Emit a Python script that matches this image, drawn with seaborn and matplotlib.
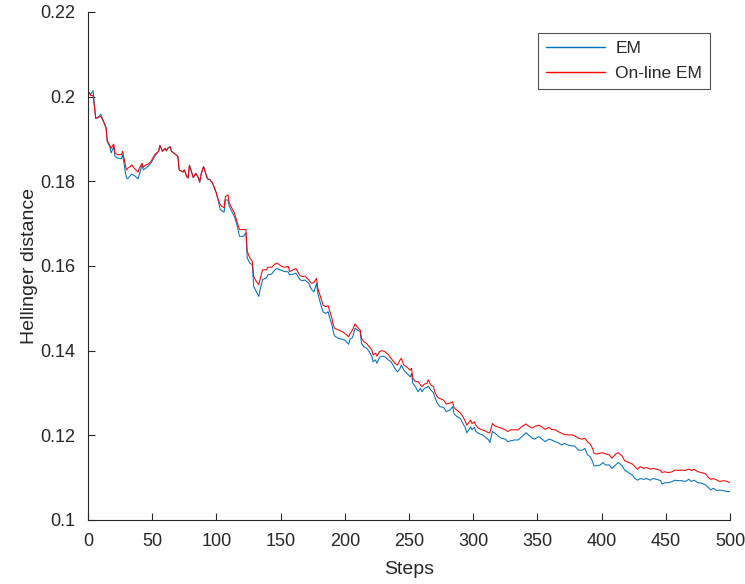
import matplotlib
matplotlib.use("Agg")
import matplotlib.pyplot as plt
import matplotlib.ticker as mticker
import numpy as np
import pandas as pd
import seaborn as sns

steps = [1, 2, 4, 6, 8, 10, 12, 14, 15, 17, 18, 20, 21, 23, 26, 27, 29, 30, 31, 33, 34, 36, 39, 40,
         42, 43, 45, 47, 49, 52, 55, 56, 58, 60, 61, 62, 64, 65, 68, 70, 71, 74, 75, 77, 78, 79,
         81, 82, 84, 86, 87, 88, 90, 91, 93, 95, 97, 100, 101, 103, 104, 106, 107, 109, 110, 112,
         114, 116, 118, 121, 123, 124, 126, 128, 129, 131, 133, 134, 136, 139, 140, 143, 145, 147,
         151, 153, 156, 157, 160, 162, 165, 167,
         169, 172, 174, 176, 178, 179, 181, 183, 185, 187, 188, 190, 191, 192, 195, 198, 200, 203,
         204, 206, 208, 210, 212, 213, 215, 217, 219, 221, 222, 224, 225, 227, 229, 231, 234, 236,
         239, 241, 243, 244, 246, 248, 251, 252, 253, 255, 257, 259, 260, 262, 264, 265, 267, 269,
         270, 272, 274, 277, 279, 282, 284, 285, 287, 290, 292, 294, 295, 298, 299, 301, 302, 304,
         307, 309, 312, 313, 315, 317, 320, 322, 325, 327, 329, 332,
         335, 338, 341, 343, 346, 348, 351, 353, 356, 359, 361, 364, 366, 369, 371, 374, 377, 379,
         382, 385, 387, 389, 391, 393, 394, 396, 399, 401, 403, 406, 408, 411, 413, 416, 418, 421,
         424, 426, 428, 430, 433, 435, 438, 440, 443, 446, 447, 449, 452, 455, 457, 460, 462, 465,
         468, 470, 472, 475, 478, 481, 483, 485, 487, 490, 492, 495, 498, 500]

em = [.2010, .2005, .2014, .1949, .1950, .1959, .1941, .1926, .1894, .1882, .1867, .1882, .1859,
      .1855, .1853, .1863, .1823, .1808, .1806, .1814, .1817, .1814, .1806, .1816, .1839, .1827,
      .1831, .1836, .1843, .1859, .1871, .1885, .1871, .1878, .1872, .1878, .1882, .1871, .1864,
      .1859, .1827, .1822, .1827, .1811, .1808, .1838, .1819, .1809, .1819, .1808, .1798, .1816,
      .1835, .1825, .1806, .1804, .1796, .1772, .1760, .1733, .1731, .1727, .1756, .1756, .1741,
      .1729, .1717, .1697, .1670, .1670, .1678, .1619, .1607, .1603, .1552, .1540, .1528, .1544,
      .1568, .1572, .1579, .1581, .1589, .1594, .1589, .1587, .1586, .1579, .1581, .1583, .1568,
      .1565,
      .1567, .1559, .1545, .1539, .1559, .1535, .1512, .1492, .1488, .1492, .1480, .1461, .1445,
      .1435, .1429, .1427, .1425, .1415, .1427, .1431, .1453, .1449, .1445, .1417, .1409, .1406,
      .1398, .1387, .1374, .1378, .1370, .1384, .1387, .1386, .1378, .1374, .1358, .1350, .1358,
      .1366, .1354, .1348, .1338, .1346, .1323, .1315, .1303, .1311, .1303, .1311, .1313, .1316,
      .1307, .1301, .1291, .1276, .1268, .1266, .1256, .1260, .1268, .1252, .1245, .1240, .1228,
      .1217, .1206, .1220, .1213, .1219, .1209, .1205, .1201, .1197, .1189, .1183, .1209, .1205,
      .1197, .1193, .1191, .1185, .1187, .1189,
      .1189, .1197, .1206, .1201, .1193, .1191, .1197, .1193, .1185, .1191, .1189, .1185, .1183,
      .1177, .1181, .1177, .1175, .1175, .1165, .1165, .1169, .1154, .1150, .1138, .1128, .1128,
      .1130, .1136, .1130, .1130, .1122, .1130, .1136, .1128, .1118, .1112, .1106, .1098, .1094,
      .1098, .1096, .1098, .1094, .1098, .1096, .1093, .1085, .1088, .1088, .1091, .1094, .1093,
      .1093, .1091, .1096, .1091, .1094, .1088, .1087, .1083, .1077, .1071, .1075, .1069, .1071,
      .1069, .1067, .1067]

online_em = [.2010, .2003, .2002, .1949, .1952, .1953, .1943, .1928, .1896, .1885, .1878, .1888,
             .1867, .1863, .1863, .1871, .1839, .1827, .1831, .1835, .1839, .1831, .1822, .1831,
             .1843, .1833, .1839, .1841, .1847, .1863, .1871, .1885, .1871, .1878, .1872, .1878,
             .1882, .1871, .1864, .1859, .1827, .1822, .1827, .1811, .1808, .1838, .1819, .1809,
             .1819, .1808, .1798, .1816, .1835, .1825, .1806, .1804, .1796, .1772, .1760, .1745,
             .1741, .1738, .1764, .1768, .1749, .1737, .1725, .1705, .1686, .1686, .1686, .1635,
             .1619, .1611, .1575, .1564, .1556, .1568, .1591, .1591, .1597, .1597, .1603, .1607,
             .1599, .1597, .1599, .1587, .1591, .1594, .1578, .1575,
             .1576, .1567, .1559, .1561, .1571, .1547, .1528, .1508, .1504, .1506, .1496, .1476,
             .1461, .1453, .1449, .1445, .1441, .1433, .1440, .1449, .1463, .1455, .1449, .1429,
             .1421, .1417, .1409, .1402, .1390, .1394, .1387, .1398, .1400, .1398, .1390, .1382,
             .1370, .1366, .1378, .1382, .1366, .1362, .1354, .1358, .1335, .1327, .1327, .1319,
             .1315, .1321, .1323, .1331, .1319, .1315, .1303, .1291, .1287, .1283, .1274, .1276,
             .1279, .1266, .1260, .1253, .1244, .1232, .1224, .1236, .1228, .1232, .1224, .1217,
             .1213, .1211, .1206, .1206, .1228, .1222, .1219, .1217, .1213, .1209, .1213, .1213,
             .1213, .1221, .1227, .1222, .1217, .1221, .1224, .1221, .1214, .1219, .1214, .1213,
             .1209, .1205, .1202, .1201, .1201, .1199, .1193, .1191, .1193, .1185, .1180, .1169,
             .1158, .1156, .1158, .1159, .1156, .1154, .1146, .1156, .1159, .1151, .1140, .1136,
             .1132, .1126, .1120, .1126, .1122, .1124, .1120, .1122, .1120, .1117, .1112, .1114,
             .1112, .1114, .1118, .1117, .1118, .1117, .1120, .1117, .1120, .1114, .1112, .1109,
             .1101, .1096, .1098, .1094, .1091, .1093, .1091, .1088]

series_names = ["EM", "On-line EM"]
series_colors = ["#0072BD", "#FF0000"]
x_ticks = [0, 50, 100, 150, 200, 250, 300, 350, 400, 450, 500]
y_ticks = [0.1, 0.12, 0.14, 0.16, 0.18, 0.2, 0.22]

df = pd.DataFrame({
    "Steps": steps * 2,
    "value": em + online_em,
    "series": [series_names[0]] * len(steps) + [series_names[1]] * len(steps),
})

sns.set_theme(style="white")
plt.rcParams["font.family"] = ["Liberation Sans", "DejaVu Sans"]

fig = plt.figure(figsize=(7.45, 5.84), dpi=100)
ax = fig.add_axes([88 / 745, 1 - 520 / 584, (730 - 88) / 745, (520 - 12) / 584])

sns.lineplot(data=df, x="Steps", y="value", hue="series", estimator=None,
             palette=dict(zip(series_names, series_colors)), linewidth=0.75, ax=ax)

ax.set_xlim(0, 500)
ax.set_ylim(0.1, 0.22)
ax.set_xticks(x_ticks)
ax.set_yticks(y_ticks)
ax.yaxis.set_major_formatter(mticker.FormatStrFormatter("%g"))
ax.set_xlabel("Steps", fontsize=14, color="#262626", labelpad=8)
ax.set_ylabel("Hellinger distance", fontsize=14, color="#262626", labelpad=2)

for side in ["top", "right"]:
    ax.spines[side].set_visible(False)
for side in ["left", "bottom"]:
    ax.spines[side].set_color("#262626")
    ax.spines[side].set_linewidth(0.8)
ax.tick_params(axis="both", direction="in", length=5, width=0.8, color="#262626",
               labelsize=13, labelcolor="#262626", pad=9,
               bottom=True, left=True, top=False, right=False)

leg = ax.legend(loc="upper right", bbox_to_anchor=(0.969, 0.959), borderaxespad=0,
                fontsize=12.5, handlelength=3.4, frameon=True, fancybox=False,
                borderpad=0.45, labelspacing=0.6, handletextpad=0.6)
leg.get_frame().set_edgecolor("#262626")
leg.get_frame().set_linewidth(0.8)
for line in leg.get_lines():
    line.set_linewidth(1.0)

fig.savefig("out.png", dpi=100, facecolor="white")
